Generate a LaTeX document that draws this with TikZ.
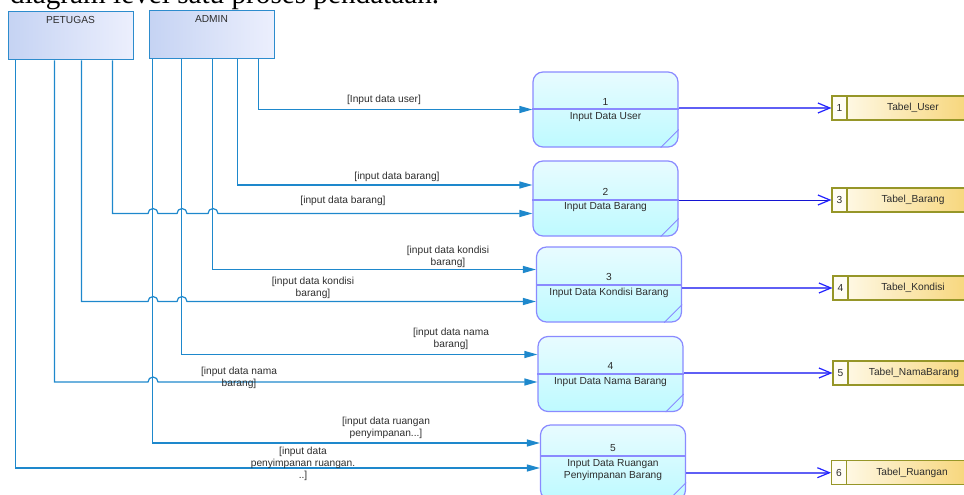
\documentclass[tikz,border=0pt]{standalone}
\usepackage{fontspec}
\setmainfont{Liberation Serif}
\newfontfamily\dfdsans{Liberation Sans}
\usetikzlibrary{arrows.meta}
\definecolor{flowc}{RGB}{30,136,204}
\definecolor{entB}{RGB}{45,140,205}
\definecolor{entT}{RGB}{197,211,243}
\definecolor{entE}{RGB}{236,239,253}
\definecolor{procB}{RGB}{138,138,255}
\definecolor{procT}{RGB}{232,251,255}
\definecolor{procE}{RGB}{190,250,255}
\definecolor{outc}{RGB}{95,95,245}
\definecolor{tipc}{RGB}{35,35,255}
\definecolor{out2}{RGB}{20,20,210}
\definecolor{stB}{RGB}{150,150,40}
\definecolor{stL}{RGB}{255,252,240}
\definecolor{stR}{RGB}{245,205,95}
\definecolor{cellc}{RGB}{255,253,245}
\definecolor{txt}{RGB}{45,45,45}
\begin{document}
\begin{tikzpicture}[x=1pt,y=-1pt,
  lbl/.style={font=\dfdsans\fontsize{10.2}{11.8}\selectfont, text=txt, align=center, inner sep=0pt},
  entity/.style={draw=entB, line width=1pt, left color=entT, right color=entE, minimum width=125pt, minimum height=48pt, inner sep=0pt},
  proc/.style={draw=procB, line width=1.2pt, rounded corners=10pt, top color=procT, bottom color=procE, minimum width=145pt, minimum height=75pt, inner sep=0pt},
  procline/.style={draw=procB, line width=1.2pt},
  inflow/.style={draw=flowc, line width=1.2pt, -{Triangle[length=13pt,width=7pt]}},
  outflow/.style={draw=outc, line width=1.7pt, -{Straight Barb[length=12pt,width=10pt,color=tipc,line width=1.2pt]}},
  outflowthin/.style={draw=out2, line width=1pt, -{Straight Barb[length=12pt,width=10pt,color=tipc,line width=1.2pt]}},
  store/.style={draw=stB, line width=1.1pt, left color=stL, right color=stR, minimum width=168pt, minimum height=24pt, inner sep=0pt},
  cell/.style={draw=stB, line width=1.1pt, fill=cellc, minimum width=15pt, minimum height=24pt, inner sep=0pt, font=\dfdsans\fontsize{10.2}{11.8}\selectfont, text=txt}
]
\useasboundingbox (0,0) rectangle (964,495);
\clip (0,0) rectangle (964,495);

% title
\node[font=\fontsize{29.2}{31}\selectfont, anchor=base west, inner sep=0pt] (title) at (10,4) {diagram level satu proses pendataan.};

% entities
\node[entity] (pet) at (70.5,36) {};
\node[entity] (adm) at (211.5,35) {};
\node[lbl] (petl) at (70.5,19.7) {PETUGAS};
\node[lbl] (adml) at (211.5,18.7) {ADMIN};

% processes
\node[proc] (p1) at (605.5,109.5) {};
\node[proc] (p2) at (605.5,198.5) {};
\node[proc] (p3) at (609,284.5) {};
\node[proc] (p4) at (610.5,374) {};
\node[proc] (p5) at (613,462.5) {};

\draw[procline] ([yshift=0.5pt]p1.west) -- ([yshift=0.5pt]p1.east);
\draw[procline] ([yshift=-1.5pt]p2.west) -- ([yshift=-1.5pt]p2.east);
\draw[procline] ([yshift=-0.5pt]p3.west) -- ([yshift=-0.5pt]p3.east);
\draw[procline] (p4.west) -- (p4.east);
\draw[procline] ([yshift=6.5pt]p5.west) -- ([yshift=6.5pt]p5.east);

\foreach \p in {p1,p2,p3,p4,p5}{
  \draw[procline, line width=1pt] ([xshift=-18pt]\p.south east) -- ([yshift=18pt]\p.south east);
}

\node[lbl] (p1n) at (605.5,101.5) {1};
\node[lbl] (p1t) at (605.5,117.5) {Input Data User};
\node[lbl] (p2n) at (605.5,191.5) {2};
\node[lbl] (p2t) at (605.5,207.5) {Input Data Barang};
\node[lbl] (p3n) at (609,276.7) {3};
\node[lbl] (p3t) at (609,293.3) {Input Data Kondisi Barang};
\node[lbl] (p4n) at (610.5,366) {4};
\node[lbl] (p4t) at (610.5,382.5) {Input Data Nama Barang};
\node[lbl] (p5n) at (613,447.7) {5};
\node[lbl] (p5t) at (613,469.7) {Input Data Ruangan\\Penyimpanan Barang};

% stores
\node[store] (s1) at (916,108) {};
\node[cell] (c1) at (839.5,108) {1};
\node[lbl] (s1t) at (913,108) {Tabel\_User};
\node[store] (s3) at (916,200) {};
\node[cell] (c3) at (839.5,200) {3};
\node[lbl] (s3t) at (913,200) {Tabel\_Barang};
\node[store] (s4) at (917,288) {};
\node[cell] (c4) at (840.5,288) {4};
\node[lbl] (s4t) at (913,288) {Tabel\_Kondisi};
\node[store] (s5) at (917,373) {};
\node[cell] (c5) at (840.5,373) {5};
\node[lbl] (s5t) at (914,373) {Tabel\_NamaBarang};
\node[store] (s6) at (915.5,472.7) {};
\node[cell] (c6) at (839,472.7) {6};
\node[lbl] (s6t) at (912,472.7) {Tabel\_Ruangan};

% input flows from ADMIN
\draw[inflow] ([xshift=110pt]adm.south west) |- (p1.west);
\draw[inflow] ([xshift=89pt]adm.south west) |- ([yshift=13.5pt]p2.west);
\draw[inflow] ([xshift=64pt]adm.south west) |- ([yshift=15pt]p3.west);
\draw[inflow] ([xshift=33pt]adm.south west) |- ([yshift=19.5pt]p4.west);
\draw[inflow] ([xshift=4pt]adm.south west) |- ([yshift=19.5pt]p5.west);

% input flows from PETUGAS (with jumps)
\draw[inflow] ([xshift=105pt]pet.south west) |- (148,213.5)
  arc[start angle=180,end angle=0,radius=5pt] -- (177,213.5)
  arc[start angle=180,end angle=0,radius=5pt] -- (208,213.5)
  arc[start angle=180,end angle=0,radius=5pt] -- ([yshift=-15pt]p2.west);
\draw[inflow] ([xshift=74pt]pet.south west) |- (148,301.5)
  arc[start angle=180,end angle=0,radius=5pt] -- (177,301.5)
  arc[start angle=180,end angle=0,radius=5pt] -- ([yshift=-17pt]p3.west);
\draw[inflow] ([xshift=47pt]pet.south west) |- (148,382)
  arc[start angle=180,end angle=0,radius=5pt] -- ([yshift=-8pt]p4.west);
\draw[inflow] ([xshift=8pt]pet.south west) |- ([yshift=-5.5pt]p5.west);

% flow labels
\node[lbl] (l1) at (384,100) {[Input data user]};
\node[lbl] (l2) at (397,177) {[input data barang]};
\node[lbl] (l3) at (343,201) {[input data barang]};
\node[lbl] (l4) at (448,256.5) {[input data kondisi\\barang]};
\node[lbl] (l5) at (313,287.5) {[input data kondisi\\barang]};
\node[lbl] (l6) at (451,338.5) {[input data nama\\barang]};
\node[lbl] (l7) at (239,377.5) {[input data nama\\barang]};
\node[lbl] (l8) at (386,428) {[input data ruangan\\penyimpanan...]};
\node[lbl] (l9) at (303,464) {[input data\\penyimpanan ruangan.\\..]};

% output flows
\draw[outflow] (p1.east |- s1.west) -- (c1.west);
\draw[outflowthin] (p2.east |- s3.west) -- (c3.west);
\draw[outflow] (p3.east |- s4.west) -- (c4.west);
\draw[outflow] (p4.east |- s5.west) -- (c5.west);
\draw[outflow] (p5.east |- s6.west) -- (c6.west);
\end{tikzpicture}
\end{document}
